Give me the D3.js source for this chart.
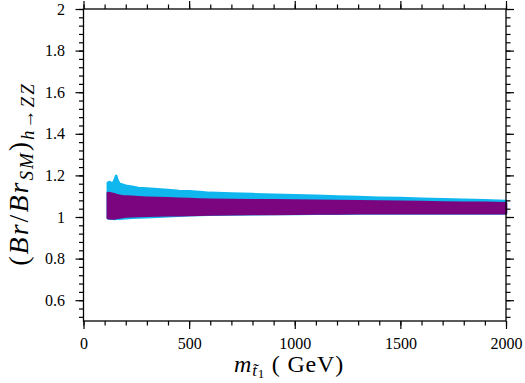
<!DOCTYPE html>
<html>
<head>
<meta charset="utf-8">
<script src="https://cdn.jsdelivr.net/npm/d3@7"></script>
<style>
  body { margin: 0; background: #fff; }
  svg { display: block; }
</style>
</head>
<body>
<svg id="chart" width="525" height="383"></svg>
<script>
const stopMass = [115, 125, 135, 145, 150, 155, 160, 170, 185, 200, 230, 260, 300, 350, 400, 450, 500, 550, 600, 700, 800, 900, 1000, 1100, 1200, 1300, 1400, 1500, 1600, 1700, 1800, 1900, 2000];

const cyanHigh = [1.165, 1.168, 1.160, 1.172, 1.185, 1.198, 1.180, 1.160, 1.155, 1.150, 1.146, 1.140, 1.137, 1.133, 1.130, 1.125, 1.124, 1.120, 1.116, 1.113, 1.110, 1.107, 1.105, 1.102, 1.099, 1.096, 1.093, 1.091, 1.088, 1.085, 1.083, 1.080, 1.077];
const cyanLow = [0.994, 0.992, 0.991, 0.990, 0.990, 0.991, 0.992, 0.992, 0.993, 0.994, 0.996, 0.997, 0.999, 1.001, 1.003, 1.006, 1.008, 1.010, 1.011, 1.012, 1.013, 1.014, 1.015, 1.016, 1.016, 1.017, 1.017, 1.017, 1.017, 1.017, 1.017, 1.017, 1.017];

const purpleHigh = [1.115, 1.114, 1.112, 1.110, 1.108, 1.106, 1.105, 1.102, 1.100, 1.099, 1.097, 1.095, 1.093, 1.091, 1.090, 1.088, 1.086, 1.084, 1.083, 1.082, 1.081, 1.080, 1.079, 1.078, 1.077, 1.076, 1.075, 1.073, 1.072, 1.070, 1.069, 1.068, 1.066];
const purpleLow = [0.995, 0.994, 0.993, 0.993, 0.994, 0.995, 0.996, 0.998, 1.000, 1.002, 1.004, 1.005, 1.006, 1.007, 1.008, 1.009, 1.010, 1.011, 1.012, 1.013, 1.014, 1.015, 1.016, 1.017, 1.017, 1.018, 1.018, 1.018, 1.018, 1.018, 1.018, 1.018, 1.018];

const xMajorTicks = [0, 500, 1000, 1500, 2000];
const xMinorTicks = d3.range(0, 2001, 100);
const yMajorTicks = [0.6, 0.8, 1, 1.2, 1.4, 1.6, 1.8, 2];
const yMinorTicks = d3.range(0, 38).map((i) => 0.52 + i * 0.04);

const margin = { top: 9, right: 19, bottom: 62, left: 83.5 };
const width = 525 - margin.left - margin.right;
const height = 383 - margin.top - margin.bottom;

const font = "'Liberation Serif', 'DejaVu Serif', serif";

const svg = d3.select("#chart");
const g = svg.append("g").attr("transform", `translate(${margin.left},${margin.top})`);

const xScale = d3.scaleLinear().domain([0, 2000]).range([0, width]);
const yScale = d3.scaleLinear().domain([0.5, 2]).range([height, 0]);

const bands = [
  { high: cyanHigh, low: cyanLow, color: "#10b6ee" },
  { high: purpleHigh, low: purpleLow, color: "#7a057f" },
];

bands.forEach((band) => {
  const rows = stopMass.map((m, i) => ({ m, high: band.high[i], low: band.low[i] }));
  const area = d3
    .area()
    .x((d) => xScale(d.m))
    .y0((d) => yScale(d.low))
    .y1((d) => yScale(d.high));
  g.append("path")
    .datum(rows)
    .attr("d", area)
    .attr("fill", band.color)
    .attr("stroke", band.color)
    .attr("stroke-width", 2.5)
    .attr("stroke-linejoin", "round");
});

const fmtY = (d) => (d === 1 || d === 2 ? d3.format("d")(d) : d3.format(".1f")(d));

const addAxis = (axisFn, scale, ticks, size, transform, labels, pad) => {
  const axis = axisFn(scale)
    .tickValues(ticks)
    .tickSize(size)
    .tickSizeOuter(0)
    .tickPadding(pad || 10)
    .tickFormat(labels || "");
  const ax = g
    .append("g")
    .attr("transform", transform)
    .call(axis)
    .attr("font-family", font)
    .attr("font-size", 16);
  ax.select(".domain").remove();
  ax.selectAll("line").attr("stroke", "#000").attr("stroke-width", 1.2);
  ax.selectAll("text").attr("fill", "#000").style("font-family", font).style("font-size", "16px");
  return ax;
};

addAxis(d3.axisBottom, xScale, xMinorTicks, 4.5, `translate(0,${height})`);
addAxis(d3.axisBottom, xScale, xMajorTicks, 8, `translate(0,${height})`, d3.format("d"), 9);
addAxis(d3.axisTop, xScale, xMinorTicks, 4.5, "translate(0,0)");
addAxis(d3.axisTop, xScale, xMajorTicks, 8, "translate(0,0)");
addAxis(d3.axisLeft, yScale, yMinorTicks, 4.5, "translate(0,0)");
addAxis(d3.axisLeft, yScale, yMajorTicks, 8, "translate(0,0)", fmtY, 10.5);
addAxis(d3.axisRight, yScale, yMinorTicks, 4.5, `translate(${width},0)`);
addAxis(d3.axisRight, yScale, yMajorTicks, 8, `translate(${width},0)`);

g.append("rect")
  .attr("width", width)
  .attr("height", height)
  .attr("fill", "none")
  .attr("stroke", "#000")
  .attr("stroke-width", 1.3);

const xTitle = svg
  .append("text")
  .attr("x", 289)
  .attr("y", 372)
  .attr("text-anchor", "middle")
  .style("font-family", font)
  .style("font-size", "24px")
  .style("letter-spacing", "0.8px");
xTitle.append("tspan").style("font-style", "italic").text("m");
xTitle.append("tspan").attr("dy", 4).style("font-style", "italic").style("font-size", "17px").text("t\u0303");
xTitle.append("tspan").attr("dy", 2).style("font-size", "13px").text("1");
xTitle.append("tspan").attr("dy", -6).text(" ( GeV)");

const yTitle = svg
  .append("text")
  .attr("transform", "translate(28,174) rotate(-90)")
  .attr("text-anchor", "middle")
  .style("font-family", font)
  .style("font-size", "28px")
  .style("letter-spacing", "2px");
yTitle.append("tspan").text("(");
yTitle.append("tspan").style("font-style", "italic").text("Br");
yTitle.append("tspan").text("/");
yTitle.append("tspan").style("font-style", "italic").text("Br");
yTitle.append("tspan").attr("dy", 5).style("font-style", "italic").style("font-size", "19px").text("SM");
yTitle.append("tspan").attr("dy", -5).text(")");
yTitle.append("tspan").attr("dy", 6).style("font-style", "italic").style("font-size", "19px").text("h\u2192ZZ");
</script>
</body>
</html>
